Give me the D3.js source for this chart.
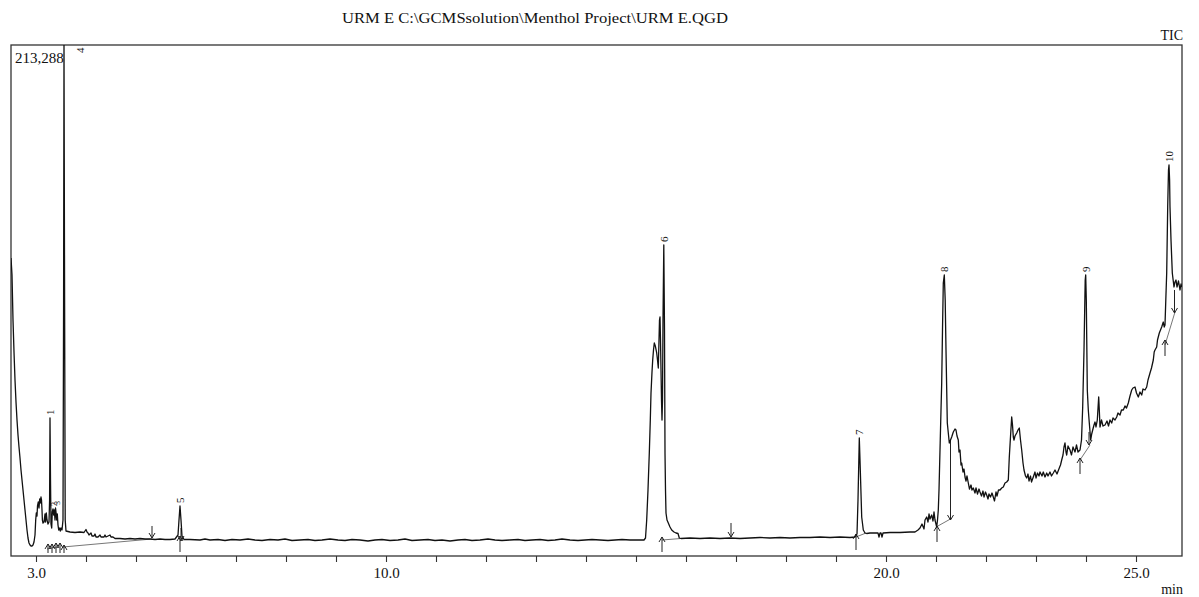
<!DOCTYPE html>
<html>
<head>
<meta charset="utf-8">
<script src="https://cdn.jsdelivr.net/npm/d3@7"></script>
<style>
  html, body { margin: 0; padding: 0; background: #fff; }
  svg { display: block; }
  text { font-family: "Liberation Serif", "Times New Roman", serif; fill: #111; }
</style>
</head>
<body>
<svg id="chart" width="1199" height="597"></svg>
<script>
// ---- data -------------------------------------------------------------
const fileTitle = "URM E C:\\GCMSsolution\\Menthol Project\\URM E.QGD";
const traceName = "TIC";
const maxIntensity = 213288;
const timeDomain = [2.5, 25.92];
const tickMinutes = d3.range(3, 26);
const labelledMinutes = [3, 10, 20, 25];

// total ion current: [retention time (min), intensity (counts)]
const ticTrace = [
  [2.50,124390],[2.52,117290],[2.54,98506],[2.56,85150],[2.58,73462],[2.60,64280],
  [2.62,56766],[2.64,50505],[2.66,45497],[2.68,40905],[2.70,35896],[2.72,31722],
  [2.74,27548],[2.76,23374],[2.78,19200],[2.80,15026],[2.82,10852],[2.84,7513],
  [2.86,5426],[2.88,4591],[2.90,4174],[2.92,4174],[2.94,4591],[2.96,5844],[2.98,8765],
  [2.994,15026],[3.006,17948],[3.02,16696],[3.03,20870],[3.046,22540],[3.06,20035],
  [3.074,23792],[3.086,22122],[3.10,24627],[3.11,23374],[3.12,19200],[3.128,15026],
  [3.14,13774],[3.16,14192],[3.18,17531],[3.19,14192],[3.206,17948],[3.22,15026],
  [3.24,13357],[3.26,14192],[3.272,23374],[3.28,57601],[3.29,31722],[3.30,13357],
  [3.314,11687],[3.326,18366],[3.34,19618],[3.354,17113],[3.366,19200],[3.38,15026],
  [3.39,20035],[3.40,18366],[3.414,15026],[3.426,17531],[3.44,12939],[3.454,10852],
  [3.47,11687],[3.486,10435],[3.50,11687],[3.52,10852],[3.54,15026],[3.552,106854],
  [3.56,213288],[3.572,106854],[3.584,15026],[3.60,10435],[3.68,10018],[3.78,9809],
  [3.88,10018],[3.96,9809],[4.00,11061],[4.02,10018],[4.04,9600],[4.06,8765],[4.08,9183],
  [4.10,9600],[4.12,8348],[4.16,8348],[4.18,9183],[4.20,7931],[4.24,7931],[4.28,8765],
  [4.30,7931],[4.36,7931],[4.38,8765],[4.40,7931],[4.44,8348],[4.48,8765],[4.50,7931],
  [4.54,7931],[4.58,7305],[4.68,7305],[4.78,7096],[4.88,7305],[4.98,7096],[5.08,7305],
  [5.18,7096],[5.28,7096],[5.38,6887],[5.48,7096],[5.58,6887],[5.68,6887],[5.78,7096],
  [5.84,8765],[5.86,15026],[5.88,20870],[5.90,15026],[5.92,8348],[5.96,6887],
  [6.08,6887],[6.28,6678],[6.38,7096],[6.48,6678],[6.64,6887],[6.78,6470],[6.92,6887],
  [7.08,6678],[7.24,7096],[7.38,6678],[7.52,6470],[7.68,6887],[7.84,6678],[7.98,7096],
  [8.12,6470],[8.28,6678],[8.44,6887],[8.58,6470],[8.72,6678],[8.88,7096],[9.04,6678],
  [9.18,6470],[9.32,6887],[9.48,6678],[9.64,6261],[9.78,6678],[9.92,6887],[10.08,6470],
  [10.24,6678],[10.38,7096],[10.52,6470],[10.68,6678],[10.84,6887],[10.98,6470],
  [11.12,6678],[11.28,6261],[11.44,6678],[11.58,6887],[11.72,6470],[11.88,6678],
  [12.04,7096],[12.18,6678],[12.32,6470],[12.48,6678],[12.64,6887],[12.78,6470],
  [12.92,6678],[13.08,6887],[13.24,6470],[13.38,6678],[13.52,7096],[13.68,6678],
  [13.84,6470],[13.98,6678],[14.12,6887],[14.28,6678],[14.44,6470],[14.58,6678],
  [14.72,6887],[14.88,6678],[15.04,6678],[15.16,6678],
  [15.19,7513],[15.214,15026],[15.24,27548],[15.266,42992],[15.286,56766],[15.30,68036],
  [15.32,76802],[15.334,81810],[15.35,85984],[15.366,88906],[15.386,87654],[15.414,84732],
  [15.43,81810],[15.446,78471],[15.46,90158],[15.47,98506],[15.48,99759],[15.49,90158],
  [15.50,77636],[15.51,65114],[15.52,56766],[15.53,65114],[15.54,98506],[15.556,129811],
  [15.57,94332],[15.58,42992],[15.59,27548],[15.60,17948],[15.62,15026],[15.646,13774],
  [15.68,12105],[15.714,10852],[15.76,10018],[15.80,9600],[15.84,9392],[15.866,7513],
  [15.90,7305],[16.08,7513],[16.28,7305],[16.48,7513],[16.68,7305],[16.88,7513],
  [17.08,7305],[17.28,7513],[17.48,7722],[17.68,7513],[17.88,7722],[18.08,7513],
  [18.28,7722],[18.48,7722],[18.68,7931],[18.88,7722],[19.08,7931],[19.28,7722],
  [19.38,7931],[19.42,9183],[19.44,23374],[19.466,49253],[19.486,35896],[19.514,16279],
  [19.546,10852],[19.58,9600],[19.614,9392],[19.68,9600],[19.78,9600],[19.84,9600],
  [19.86,7931],[19.88,9600],[19.90,9600],[19.92,7931],[19.94,9600],[20.08,9809],
  [20.28,9809],[20.48,10018],[20.58,10018],[20.64,10852],[20.68,11687],[20.72,13357],
  [20.76,11270],[20.78,15026],[20.814,16279],[20.84,14192],[20.86,17531],[20.88,15444],
  [20.914,17113],[20.94,14609],[20.96,18366],[20.98,15026],[21.014,12105],[21.03,15026],
  [21.046,19200],[21.06,27548],[21.08,44244],[21.10,60940],[21.114,72210],[21.13,94332],
  [21.146,113950],[21.166,117289],[21.184,106854],[21.20,85984],[21.226,55514],
  [21.266,47166],[21.29,48418],[21.314,49671],[21.346,51758],[21.38,53010],[21.40,52592],
  [21.42,50088],[21.446,48418],[21.46,43410],[21.48,44244],[21.50,37983],[21.514,38818],
  [21.54,35062],[21.56,36314],[21.58,32975],[21.60,31305],[21.62,33392],[21.646,30470],
  [21.67,27966],[21.70,29635],[21.72,27548],[21.746,28383],[21.78,26296],[21.80,28383],
  [21.83,25879],[21.86,27966],[21.88,26714],[21.91,25044],[21.94,27131],[21.96,24627],
  [21.99,26714],[22.014,25461],[22.04,23792],[22.06,25879],[22.09,24627],[22.12,26296],
  [22.146,24627],[22.17,22957],[22.20,26714],[22.22,25044],[22.25,27548],[22.28,27548],
  [22.314,28383],[22.346,28801],[22.38,30470],[22.414,30888],[22.446,31722],[22.466,41323],
  [22.486,48418],[22.514,58019],[22.53,54679],[22.546,49671],[22.56,48418],[22.58,50088],
  [22.614,51340],[22.64,52592],[22.666,53427],[22.69,48418],[22.714,44244],[22.74,38818],
  [22.76,35896],[22.79,33392],[22.814,32557],[22.84,34227],[22.86,31305],[22.89,33392],
  [22.91,30888],[22.946,32975],[22.98,35062],[23.00,32557],[23.03,34644],[23.06,33392],
  [23.08,35062],[23.12,33392],[23.146,35062],[23.18,32975],[23.214,34644],[23.24,33392],
  [23.28,35062],[23.31,33392],[23.346,34644],[23.38,35896],[23.42,34227],[23.466,36731],
  [23.49,37983],[23.514,40070],[23.54,42157],[23.56,45497],[23.58,47166],[23.60,43410],
  [23.614,42157],[23.64,45914],[23.68,44244],[23.71,42157],[23.74,45497],[23.78,43410],
  [23.81,46331],[23.84,43410],[23.88,44244],[23.91,48418],[23.934,62193],[23.96,85984],
  [23.984,115202],[23.994,117289],[24.006,106854],[24.026,69288],[24.046,60940],
  [24.066,55514],[24.094,48418],[24.114,50923],[24.134,52592],[24.16,54679],[24.18,55932],
  [24.20,53845],[24.226,56766],[24.244,63027],[24.254,66367],[24.266,60940],[24.28,53845],
  [24.31,56766],[24.34,54262],[24.38,54679],[24.42,56349],[24.45,54262],[24.48,56766],
  [24.514,55514],[24.54,57601],[24.58,56766],[24.614,58019],[24.64,59688],[24.68,58853],
  [24.71,60940],[24.746,60940],[24.78,62610],[24.81,61775],[24.846,63862],[24.88,66784],
  [24.914,69288],[24.94,70123],[24.98,70541],[25.01,68036],[25.046,66367],[25.08,68454],
  [25.114,67201],[25.14,69706],[25.18,69288],[25.214,70541],[25.24,73462],[25.28,76384],
  [25.31,78471],[25.346,81810],[25.364,85150],[25.38,85984],[25.414,87237],[25.43,90158],
  [25.466,93080],[25.49,94332],[25.514,95585],[25.546,97672],[25.564,95585],[25.58,96419],
  [25.596,106854],[25.614,118124],[25.634,145673],[25.65,161116],[25.66,163203],
  [25.672,156942],[25.68,145673],[25.70,131898],[25.726,118124],[25.76,112281],
  [25.78,114368],[25.80,115202],[25.82,112281],[25.85,114785],[25.88,111028],
  [25.90,113533],[25.914,112281]
];

// peak numbers and their apex (time, intensity)
const peakNumbers = ["1", "2", "3", "4", "5", "6", "7", "8", "9", "10"];
const peakTimes = [3.28, 3.34, 3.39, 3.56, 5.88, 15.556, 19.466, 21.166, 23.994, 25.66];
const peakApex = [57601, 19618, 20035, 213288, 20870, 129811, 49253, 117289, 117289, 163203];

// integration baselines: [start time, start intensity, end time, end intensity]
const integrationBaselines = [
  [3.22, 2922, 3.42, 3757],
  [3.54, 3757, 5.32, 7096],
  [15.52, 6678, 15.90, 7305],
  [19.40, 7931, 19.60, 9600],
  [21.014, 12230, 21.314, 15736],
  [23.88, 40070, 24.08, 46331],
  [25.58, 88071, 25.78, 101846]
];

// peak start / end markers: time, arrow tip intensity, tail intensity
const markerTimes = [3.24, 3.32, 3.40, 3.48, 3.56, 5.32, 5.88, 5.90, 15.52, 16.90,
                     19.40, 21.02, 21.29, 23.88, 24.06, 25.58, 25.77];
const markerTips  = [5009, 5009, 5426, 5426, 4591, 7513, 8348, 6261, 7931, 7931,
                     9183, 12522, 15026, 40905, 46331, 90158, 101428];
const markerTails = [1252, 1252, 1252, 1252, 1252, 12522, 1670, 11687, 1670, 13774,
                     2504, 5844, 48418, 34227, 51758, 83480, 111028];

// ---- layout -----------------------------------------------------------
const frame = { left: 11, right: 1182, top: 45, bottom: 556 };

const svg = d3.select("#chart");

const x = d3.scaleLinear().domain(timeDomain).range([frame.left, frame.right]);
const y = d3.scaleLinear().domain([0, maxIntensity]).range([frame.bottom, frame.top]);

// title and corner labels
svg.append("text")
  .attr("x", 535).attr("y", 23)
  .attr("text-anchor", "middle")
  .attr("font-size", 15)
  .attr("textLength", 386)
  .attr("lengthAdjust", "spacingAndGlyphs")
  .text(fileTitle);

svg.append("text")
  .attr("x", frame.right + 1).attr("y", 40)
  .attr("text-anchor", "end")
  .attr("font-size", 14)
  .text(traceName);

// plot frame
svg.append("rect")
  .attr("x", frame.left).attr("y", frame.top)
  .attr("width", frame.right - frame.left)
  .attr("height", frame.bottom - frame.top)
  .attr("fill", "none")
  .attr("stroke", "#333")
  .attr("stroke-width", 1.3);

svg.append("text")
  .attr("x", frame.left + 4).attr("y", frame.top + 18)
  .attr("font-size", 15)
  .text(d3.format(",")(maxIntensity));

// time axis
const axis = d3.axisBottom(x)
  .tickValues(tickMinutes)
  .tickSize(6)
  .tickPadding(5)
  .tickFormat(d => labelledMinutes.includes(d) ? d3.format(".1f")(d) : "");

const gx = svg.append("g")
  .attr("transform", `translate(0,${frame.bottom})`)
  .call(axis);
gx.select(".domain").remove();
gx.selectAll(".tick line").attr("stroke", "#333").attr("stroke-width", 1.1);
gx.selectAll(".tick text")
  .attr("font-family", "Liberation Serif, serif")
  .attr("font-size", 15)
  .attr("fill", "#111");

svg.append("text")
  .attr("x", frame.right + 1).attr("y", 594)
  .attr("text-anchor", "end")
  .attr("font-size", 14)
  .text("min");

// plot body, clipped to the frame
svg.append("clipPath").attr("id", "plot-clip")
  .append("rect")
  .attr("x", frame.left).attr("y", frame.top)
  .attr("width", frame.right - frame.left)
  .attr("height", frame.bottom - frame.top);

const body = svg.append("g").attr("clip-path", "url(#plot-clip)");

// integration baselines
body.selectAll("line.baseline")
  .data(integrationBaselines)
  .join("line")
  .attr("class", "baseline")
  .attr("x1", d => x(d[0])).attr("y1", d => y(d[1]))
  .attr("x2", d => x(d[2])).attr("y2", d => y(d[3]))
  .attr("stroke", "#777")
  .attr("stroke-width", 1);

// start / end arrows
const markers = markerTimes.map((t, i) => ({ t, tip: markerTips[i], tail: markerTails[i] }));
body.selectAll("path.marker")
  .data(markers)
  .join("path")
  .attr("class", "marker")
  .attr("d", d => {
    const px = x(d.t), tipY = y(d.tip), tailY = y(d.tail);
    const dir = tailY > tipY ? 1 : -1;   // 1: arrow points up, -1: points down
    return `M${px},${tailY}L${px},${tipY}` +
           `M${px - 3},${tipY + dir * 5}L${px},${tipY}L${px + 3},${tipY + dir * 5}`;
  })
  .attr("fill", "none")
  .attr("stroke", "#222")
  .attr("stroke-width", 1);

// chromatogram trace
const line = d3.line()
  .x(d => x(d[0]))
  .y(d => y(d[1]));

body.append("path")
  .datum(ticTrace)
  .attr("d", line)
  .attr("fill", "none")
  .attr("stroke", "#111")
  .attr("stroke-width", 1.3)
  .attr("stroke-linejoin", "round");

// peak numbers, written vertically above each apex
const peaks = peakNumbers.map((n, i) => ({ n, t: peakTimes[i], h: peakApex[i] }));
svg.selectAll("text.peak")
  .data(peaks)
  .join("text")
  .attr("class", "peak")
  .attr("font-size", d => (d.n === "2" || d.n === "3") ? 8 : 11)
  .attr("transform", d => {
    let px = x(d.t) + 4;
    let py = y(d.h) - 3;
    if (py < frame.top + 8) {            // off-scale apex: tuck label inside frame
      px += 16;
      py = frame.top + 8;
    }
    return `translate(${px},${py}) rotate(-90)`;
  })
  .text(d => d.n);
</script>
</body>
</html>
